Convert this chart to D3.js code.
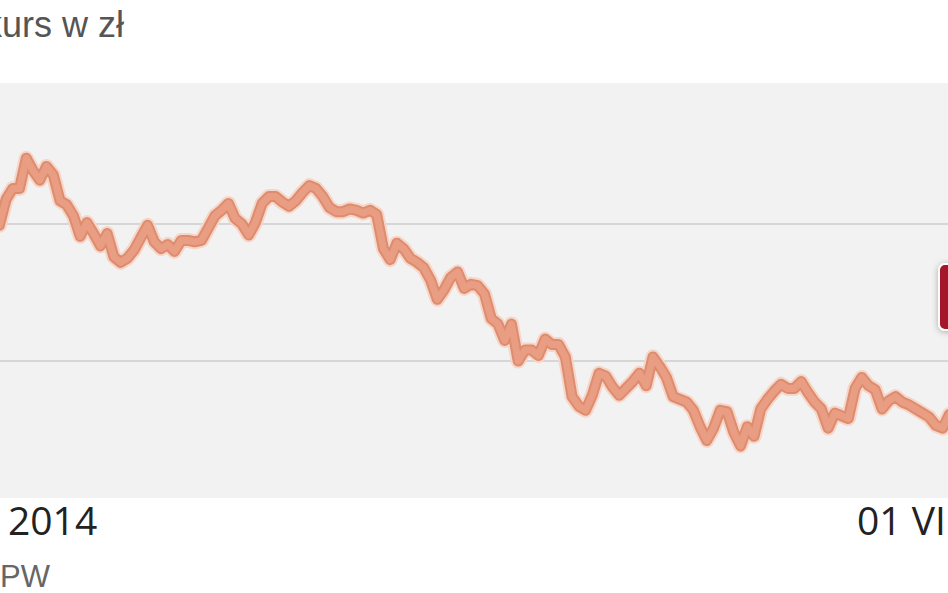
<!DOCTYPE html>
<html>
<head>
  <meta charset="utf-8">
  <style>
    body {
        margin: 0;
        background: #fff;
        overflow: hidden;
    }
  </style>
</head>
<body>
<script src="https://d3js.org/d3.v7.min.js"></script>
<div id="chart"></div>
<script>
    // Weekly closing prices (zł), first week starting 23 XII 2013
    const startDate = new Date(2013, 11, 23);
    const prices = [
      4.99, 5.18, 5.26, 5.26, 5.48, 5.39, 5.32, 5.42, 5.36, 5.17,
      5.14, 5.06, 4.91, 5.01, 4.93, 4.84, 4.93, 4.76, 4.72, 4.75,
      4.81, 4.90, 4.99, 4.87, 4.82, 4.85, 4.80, 4.88, 4.88, 4.87,
      4.88, 4.97, 5.06, 5.10, 5.15, 5.04, 5.00, 4.92, 5.01, 5.15,
      5.20, 5.20, 5.16, 5.13, 5.17, 5.23, 5.28, 5.26, 5.20, 5.12,
      5.09, 5.09, 5.11, 5.10, 5.08, 5.10, 5.07, 4.82, 4.74, 4.86,
      4.82, 4.75, 4.72, 4.68, 4.59, 4.45, 4.52, 4.61, 4.65, 4.53,
      4.56, 4.55, 4.49, 4.31, 4.27, 4.15, 4.27, 4.00, 4.08, 4.08,
      4.04, 4.16, 4.12, 4.12, 4.03, 3.74, 3.67, 3.64, 3.75, 3.91,
      3.89, 3.81, 3.75, 3.80, 3.85, 3.91, 3.82, 4.03, 3.96, 3.88,
      3.74, 3.72, 3.70, 3.64, 3.52, 3.42, 3.51, 3.64, 3.63, 3.48,
      3.38, 3.52, 3.45, 3.65, 3.72, 3.78, 3.83, 3.80, 3.80, 3.85,
      3.77, 3.70, 3.65, 3.51, 3.62, 3.60, 3.58, 3.80, 3.88, 3.82,
      3.79, 3.65, 3.71, 3.74, 3.70, 3.68, 3.65, 3.62, 3.59, 3.53,
      3.51, 3.61
    ];
    const gridValues = [4, 5];
    const tickDates = [new Date(2014, 0, 1), new Date(2016, 5, 1)];
    const tickLabels = ["2014", "01 VI"];

    const data = prices.map((v, i) => ({
      date: d3.timeDay.offset(startDate, i * 7),
      value: v
    }));

    const W = 948, H = 593;
    const plotTop = 83, plotBottom = 498;

    const svg = d3.select("#chart").append("svg")
      .attr("width", W)
      .attr("height", H);

    const defs = svg.append("defs");
    const shadow = defs.append("filter")
      .attr("id", "shadow")
      .attr("x", "-50%").attr("y", "-50%")
      .attr("width", "200%").attr("height", "200%");
    shadow.append("feDropShadow")
      .attr("dx", 0).attr("dy", 1)
      .attr("stdDeviation", 3)
      .attr("flood-color", "#000")
      .attr("flood-opacity", 0.3);

    // Scales
    const x = d3.scaleTime()
      .domain(tickDates)
      .range([8, 857]);

    const y = d3.scaleLinear()
      .domain([3, 3 + (plotBottom - plotTop) / 137])
      .range([plotBottom, plotTop]);

    // Plot background
    svg.append("rect")
      .attr("x", 0)
      .attr("y", plotTop)
      .attr("width", W)
      .attr("height", plotBottom - plotTop)
      .attr("fill", "#f2f2f2");

    // Grid lines
    svg.append("g")
      .selectAll("line")
      .data(gridValues)
      .join("line")
      .attr("x1", 0)
      .attr("x2", W)
      .attr("y1", d => y(d))
      .attr("y2", d => y(d))
      .attr("stroke", "#d6d6d6")
      .attr("stroke-width", 2);

    // Price line: halo, darker edge, lighter core
    const line = d3.line()
      .x(d => x(d.date))
      .y(d => y(d.value));

    const strokes = [
      { color: "#f6d6c8", width: 15 },
      { color: "#de8c6f", width: 11 },
      { color: "#e99d82", width: 7 }
    ];

    svg.append("g")
      .selectAll("path")
      .data(strokes)
      .join("path")
      .attr("d", line(data))
      .attr("fill", "none")
      .attr("stroke", d => d.color)
      .attr("stroke-width", d => d.width)
      .attr("stroke-linejoin", "round")
      .attr("stroke-linecap", "round");

    // Current value badge (cut at the right edge)
    svg.append("rect")
      .attr("x", 939)
      .attr("y", 264)
      .attr("width", 70)
      .attr("height", 66)
      .attr("rx", 6)
      .attr("fill", "#a5122b")
      .attr("stroke", "#fff")
      .attr("stroke-width", 2)
      .attr("filter", "url(#shadow)");

    // Title
    svg.append("text")
      .attr("x", -16)
      .attr("y", 37)
      .attr("font-family", "Liberation Sans, Arial, sans-serif")
      .attr("font-size", 36)
      .attr("fill", "#555")
      .text("kurs w zł");

    // X axis labels
    svg.append("g")
      .selectAll("text")
      .data(tickDates)
      .join("text")
      .attr("x", d => x(d))
      .attr("y", 535)
      .attr("font-family", "Open Sans, sans-serif")
      .attr("font-size", 39)
      .attr("font-weight", 500)
      .attr("fill", "#222")
      .text((d, i) => tickLabels[i]);

    // Source
    svg.append("text")
      .attr("x", 50)
      .attr("y", 587)
      .attr("text-anchor", "end")
      .attr("font-family", "Liberation Sans, Arial, sans-serif")
      .attr("font-size", 31)
      .attr("fill", "#666")
      .text("GPW");
</script>
</body>
</html>
